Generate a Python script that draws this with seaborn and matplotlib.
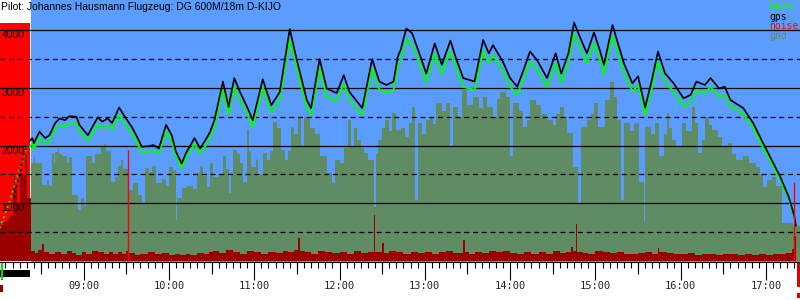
import matplotlib
matplotlib.use("Agg")
import matplotlib.pyplot as plt
from matplotlib.ticker import MultipleLocator
import seaborn as sns

# ---------------- data ----------------
title = "Pilot: Johannes Hausmann Flugzeug: DG 600M/18m D-KIJO"

gps_t = ["08:22", "08:24", "08:25", "08:29", "08:33", "08:36", "08:40", "08:43", "08:47", "08:50",
         "08:55", "08:57", "09:01", "09:03", "09:07", "09:10", "09:13", "09:17", "09:20", "09:25",
         "09:29", "09:34", "09:37", "09:41", "09:46", "09:49", "09:53", "09:58", "10:02", "10:05",
         "10:09", "10:12", "10:18", "10:22", "10:27", "10:29", "10:32", "10:38", "10:42", "10:46",
         "10:50", "10:55", "10:59", "11:06", "11:12", "11:18", "11:25", "11:30", "11:37", "11:40",
         "11:46", "11:51", "11:58", "12:03", "12:07", "12:16", "12:23", "12:28", "12:33", "12:38",
         "12:41", "12:43", "12:47", "12:51", "12:57", "13:01", "13:07", "13:12", "13:18", "13:22",
         "13:27", "13:35", "13:41", "13:45", "13:48", "13:55", "14:00", "14:05", "14:09", "14:14",
         "14:19", "14:26", "14:32", "14:36", "14:41", "14:45", "14:50", "14:54", "14:59", "15:03",
         "15:06", "15:12", "15:20", "15:26", "15:30", "15:35", "15:40", "15:44", "15:49", "15:55",
         "16:02", "16:07", "16:11", "16:17", "16:21", "16:27", "16:31", "16:35", "16:44", "16:51",
         "16:58", "17:04", "17:10", "17:16", "17:20", "17:21"]
gps_v = [2080, 2130, 2040, 2240, 2130, 2180, 2390, 2470, 2440, 2510,
         2500, 2360, 2240, 2180, 2360, 2490, 2415, 2470, 2390, 2660,
         2500, 2320, 2180, 1980, 1990, 2010, 1950, 2360, 2180, 1890,
         1690, 1870, 2130, 1950, 2150, 2240, 2440, 3110, 2670, 3170,
         2930, 2670, 2440, 3150, 2700, 2930, 4020, 3480, 2790, 2650,
         3500, 2990, 2910, 3220, 2930, 2650, 3500, 3110, 3050, 3110,
         3540, 3660, 4030, 3950, 3540, 3250, 3770, 3400, 3820, 3510,
         3170, 3110, 3830, 3600, 3740, 3450, 3170, 3020, 3280, 3630,
         3480, 3170, 3600, 3250, 3600, 4130, 3830, 3600, 3960, 3660,
         3400, 4090, 3430, 3080, 3200, 2660, 3170, 3630, 3250, 3080,
         2820, 2880, 3110, 3050, 3170, 2990, 3020, 2790, 2650, 2390,
         2040, 1750, 1460, 1110, 770, 610]
baro_v = [1980, 2030, 1945, 2135, 2030, 2080, 2280, 2355, 2325, 2390,
          2380, 2250, 2135, 2080, 2250, 2375, 2300, 2355, 2280, 2535,
          2380, 2210, 2080, 1885, 1895, 1915, 1860, 2250, 2080, 1800,
          1610, 1780, 2030, 1860, 2050, 2135, 2325, 2965, 2545, 3020,
          2790, 2545, 2325, 3000, 2575, 2790, 3840, 3315, 2660, 2525,
          3335, 2850, 2775, 3070, 2790, 2525, 3335, 2965, 2905, 2965,
          3375, 3485, 3840, 3765, 3375, 3095, 3595, 3240, 3640, 3345,
          3020, 2965, 3650, 3430, 3565, 3290, 3020, 2875, 3125, 3460,
          3315, 3020, 3430, 3095, 3430, 3935, 3650, 3430, 3775, 3490,
          3240, 3900, 3270, 2935, 3050, 2535, 3020, 3460, 3100, 2935,
          2690, 2745, 2965, 2905, 3020, 2850, 2880, 2680, 2550, 2300,
          1960, 1685, 1405, 1070, 750, 610]

pre_baro_t = ["08:01", "08:08", "08:15", "08:20"]
pre_baro_v = [570, 1030, 1600, 1950]
pre_gps_t = ["08:11", "08:15", "08:17", "08:20"]
pre_gps_v = [1100, 1490, 1780, 1980]

gnd_t = ["08:23", "08:25", "08:26", "08:31", "08:34", "08:36", "08:38", "08:39", "08:40", "08:42",
         "08:43", "08:45", "08:48", "08:50", "08:52", "08:56", "08:58", "09:00", "09:02", "09:06",
         "09:08", "09:12", "09:14", "09:16", "09:19", "09:22", "09:24", "09:26", "09:28", "09:31",
         "09:35", "09:38", "09:41", "09:43", "09:46", "09:48", "09:51", "09:55", "09:58", "10:00",
         "10:03", "10:05", "10:06", "10:09", "10:13", "10:17", "10:20", "10:22", "10:24", "10:27",
         "10:29", "10:31", "10:35", "10:38", "10:40", "10:42", "10:44", "10:45", "10:48", "10:50",
         "10:52", "10:55", "10:56", "10:58", "11:01", "11:03", "11:06", "11:09", "11:11", "11:13",
         "11:16", "11:19", "11:22", "11:24", "11:26", "11:28", "11:31", "11:33", "11:35", "11:39",
         "11:43", "11:46", "11:51", "11:55", "11:57", "12:00", "12:03", "12:06", "12:08", "12:10",
         "12:12", "12:15", "12:17", "12:20", "12:24", "12:26", "12:27", "12:30", "12:32", "12:35",
         "12:37", "12:40", "12:43", "12:46", "12:49", "12:51", "12:53", "12:55", "12:58", "13:01",
         "13:04", "13:06", "13:08", "13:12", "13:15", "13:18", "13:20", "13:23", "13:26", "13:30",
         "13:34", "13:38", "13:41", "13:44", "13:48", "13:51", "13:53", "13:57", "14:00", "14:02",
         "14:06", "14:09", "14:12", "14:14", "14:18", "14:22", "14:26", "14:30", "14:32", "14:35",
         "14:38", "14:40", "14:44", "14:48", "14:50", "14:54", "14:57", "14:59", "15:02", "15:07",
         "15:10", "15:13", "15:15", "15:18", "15:20", "15:24", "15:27", "15:31", "15:34", "15:35",
         "15:39", "15:42", "15:45", "15:48", "15:50", "15:52", "15:54", "15:57", "16:01", "16:04",
         "16:08", "16:10", "16:12", "16:15", "16:17", "16:20", "16:22", "16:26", "16:29", "16:33",
         "16:36", "16:39", "16:44", "16:48", "16:53", "16:56", "16:58", "17:01", "17:04", "17:07",
         "17:11", "17:19", "17:24"]
gnd_v = [1700, 1820, 1700, 1320, 1400, 1300, 1870, 1700, 1890, 1980,
         1850, 1820, 1700, 1800, 1140, 880, 1100, 950, 1820, 1700,
         1850, 1980, 2020, 1900, 1370, 1450, 1650, 1750, 1600, 1230,
         1350, 1150, 1000, 1610, 1550, 1640, 1350, 1420, 1300, 1635,
         1580, 710, 1100, 1265, 1300, 1250, 1525, 1640, 1480, 1290,
         1700, 1460, 1500, 1820, 1600, 1180, 1500, 1920, 1850, 1700,
         1375, 2270, 1900, 1635, 1750, 1500, 1866, 1750, 1900, 2415,
         2300, 1924, 1750, 1900, 2327, 2200, 2500, 2000, 2500, 2300,
         2200, 1820, 1520, 1350, 1750, 1700, 1950, 2444, 2000, 2300,
         2097, 1950, 1866, 1750, 941, 1850, 2097, 2300, 2444, 2250,
         2560, 2270, 2300, 2150, 2400, 2674, 1057, 2386, 2200, 2450,
         2501, 2380, 2733, 2600, 2733, 1980, 2674, 2500, 2963, 2700,
         2847, 2650, 2850, 2674, 2500, 2800, 2934, 2850, 1820, 2733,
         2600, 2327, 2450, 2790, 2700, 2550, 2444, 2350, 2550, 2674,
         2500, 2213, 1634, 1000, 2327, 2450, 2550, 2733, 2327, 2790,
         3107, 2850, 2444, 1050, 2386, 2250, 2400, 1375, 700, 2327,
         2200, 2400, 1820, 2200, 2560, 2300, 2097, 2000, 2386, 2250,
         2674, 2400, 1866, 2100, 2501, 2350, 2270, 2150, 1980, 2050,
         1850, 1750, 1820, 1700, 1634, 1500, 1290, 1400, 1461, 1300,
         655, 600, 600]

noise_t = ["08:01", "08:22"]
noise_v = [4125, 4125]
noise_spike_t = ["09:31", "17:20"]
noise_spike_v = [1924, 1375]

floor_t = ["08:01", "08:03", "08:06", "08:08", "08:10", "08:11", "08:12", "08:13", "08:15", "08:19",
           "08:20", "08:23", "08:26", "08:28", "08:31", "08:32", "08:36", "08:40", "08:44", "08:48",
           "08:52", "08:55", "08:59", "09:02", "09:06", "09:10", "09:14", "09:18", "09:21", "09:24",
           "09:27", "09:30", "09:32", "09:36", "09:40", "09:45", "09:50", "09:55", "10:00", "10:04",
           "10:08", "10:12", "10:15", "10:20", "10:25", "10:28", "10:31", "10:35", "10:40", "10:45",
           "10:50", "10:55", "11:00", "11:05", "11:10", "11:15", "11:20", "11:24", "11:28", "11:31",
           "11:32", "11:36", "11:40", "11:45", "11:50", "11:55", "12:00", "12:05", "12:10", "12:15",
           "12:20", "12:24", "12:25", "12:30", "12:31", "12:35", "12:40", "12:45", "12:50", "12:55",
           "13:00", "13:05", "13:10", "13:15", "13:20", "13:27", "13:28", "13:31", "13:35", "13:40",
           "13:45", "13:50", "13:55", "14:00", "14:05", "14:10", "14:15", "14:20", "14:25", "14:30",
           "14:35", "14:39", "14:43", "14:44", "14:46", "14:47", "14:51", "14:55", "15:00", "15:05",
           "15:10", "15:15", "15:20", "15:25", "15:30", "15:35", "15:40", "15:44", "15:45", "15:50",
           "15:55", "16:00", "16:05", "16:10", "16:15", "16:20", "16:25", "16:30", "16:35", "16:40",
           "16:45", "16:50", "16:55", "17:00", "17:05", "17:10", "17:14", "17:18", "17:20", "17:21"]
floor_v = [626, 684, 741, 800, 1310, 1490, 1310, 970, 1490, 1830,
           1086, 170, 140, 190, 290, 150, 120, 160, 130, 170,
           140, 110, 150, 130, 170, 150, 120, 160, 130, 150,
           120, 170, 140, 110, 130, 160, 120, 140, 110, 130,
           100, 120, 110, 140, 120, 150, 170, 140, 190, 150,
           130, 170, 150, 130, 160, 140, 170, 150, 190, 400,
           170, 150, 130, 180, 160, 140, 150, 130, 170, 140,
           150, 790, 160, 320, 140, 170, 160, 130, 150, 140,
           160, 130, 150, 170, 140, 360, 150, 130, 160, 140,
           170, 150, 180, 140, 130, 160, 120, 150, 130, 170,
           140, 160, 240, 170, 650, 160, 140, 130, 170, 150,
           140, 160, 130, 120, 140, 150, 130, 220, 150, 140,
           130, 120, 140, 110, 130, 120, 110, 130, 120, 110,
           120, 110, 120, 110, 130, 120, 140, 200, 430, 0]

hour_labels = ["09:00", "10:00", "11:00", "12:00", "13:00", "14:00", "15:00", "16:00", "17:00"]
half_hours = ["08:30", "09:30", "10:30", "11:30", "12:30", "13:30", "14:30", "15:30", "16:30"]
ytick_vals = [1000, 2000, 3000, 4000]
ytick_labels = ["1000", "2000", "3000", "4000"]
ygrid_minor = [500, 1500, 2500, 3500]

legend_labels = ["baro", "gps", "noise", "gnd"]
legend_colors = ["#00ff00", "#000000", "#ff0000", "#608c64"]

# ---------------- helpers ----------------
def tmin(s):
    parts = s.split(":")
    return int(parts[0]) * 60 + float(parts[1])

def tl(lst):
    return [tmin(s) for s in lst]

SKY = "#5a9cff"
GND = "#608c64"
DARKRED = "#990000"

sns.set_theme(style="white")
plt.rcParams["font.family"] = ["DejaVu Sans"]

fig = plt.figure(figsize=(8, 3), dpi=100)
fig.patch.set_facecolor("white")
ax = fig.add_axes([0, 38 / 300, 1, 262 / 300])
ax.set_facecolor("white")

x0, x1 = 481.2, 1043.9
ax.set_xlim(x0, x1)
ax.set_ylim(-17, 4523)

# sky during flight
ax.axvspan(tmin(gnd_t[0]), x1, color=SKY, lw=0, zorder=0)
# engine noise block
ax.fill_between(tl(noise_t), noise_v, step="post", color="#ff0000", lw=0, zorder=0.5)
# ground
ax.fill_between(tl(gnd_t), gnd_v, step="post", color=GND, lw=0, zorder=0.8)
# noise floor
ax.fill_between(tl(floor_t), floor_v, step="post", color=DARKRED, lw=0, zorder=0.9)
ax.vlines(tl(noise_spike_t), 0, noise_spike_v, color="#ff0000", lw=1.0, zorder=2.2)

# pre-flight dotted traces
ax.plot(tl(pre_baro_t), pre_baro_v, color="#00ff00", lw=1.3, ls=(0, (1, 2)), zorder=2)
ax.plot(tl(pre_gps_t), pre_gps_v, color="black", lw=1.3, ls=(0, (1, 2)), zorder=2.1)

# flight traces
sns.lineplot(x=tl(gps_t), y=baro_v, ax=ax, color="#00ff00", lw=1.4, estimator=None,
             sort=False, legend=False, zorder=2)
sns.lineplot(x=tl(gps_t), y=gps_v, ax=ax, color="black", lw=1.2, estimator=None,
             sort=False, legend=False, zorder=2.1)

# grid
ax.set_axisbelow("line")
ax.set_yticks(ytick_vals, labels=ytick_labels)
ax.set_yticks(ygrid_minor, minor=True)
ax.yaxis.grid(True, which="major", color="black", lw=0.9, ls="-")
ax.yaxis.grid(True, which="minor", color="black", lw=0.9, ls=(0, (4, 3)))
ax.xaxis.grid(False)
ax.tick_params(axis="y", which="both", length=0, pad=-1, labelsize=7.5, labelcolor="black")
for lab in ax.get_yticklabels():
    lab.set_horizontalalignment("left")
    lab.set_verticalalignment("top")
    lab.set_fontfamily("Liberation Sans")

# x ticks
ax.set_xticks(tl(hour_labels), labels=hour_labels)
ax.xaxis.set_minor_locator(MultipleLocator(5))
ax.tick_params(axis="x", which="major", direction="out", length=13, width=0.8, color="black",
               pad=0.5, labelsize=7.5, bottom=True)
ax.tick_params(axis="x", which="minor", direction="out", length=4.3, width=0.8, color="black",
               bottom=True)
for lab in ax.get_xticklabels():
    lab.set_fontfamily("DejaVu Sans Mono")

sec = ax.secondary_xaxis("bottom")
sec.set_xticks(tl(half_hours))
sec.tick_params(axis="x", direction="out", length=8.6, width=0.8, color="black", labelbottom=False)
for s in sec.spines.values():
    s.set_visible(False)

for name, s in ax.spines.items():
    s.set_visible(name == "bottom")
ax.spines["bottom"].set_color("black")
ax.spines["bottom"].set_linewidth(0.8)

# timeline markers below the axis
tr = ax.get_xaxis_transform()
ax.fill_between([x0, tmin("08:22")], -0.031, -0.057, color="black", lw=0, transform=tr, clip_on=False)
ax.fill_between([x0 + 0.6, x0 + 1.8], 0, -0.069, color="#00dd00", lw=0, transform=tr, clip_on=False)
ax.fill_between([x0, x0 + 2.0], -0.088, -0.115, color=DARKRED, lw=0, transform=tr, clip_on=False)
ax.fill_between([tmin("17:22"), x1], 0, -0.095, color="#dd0000", lw=0, transform=tr, clip_on=False)
ax.fill_between([tmin("17:22"), x1], -0.118, -0.137, color="#dd0000", lw=0, transform=tr, clip_on=False)

# title and legend
fig.text(1 / 800, 1 - 7 / 300, title, ha="left", va="center", fontsize=7.5,
         family="Liberation Sans", color="black")
for i, (lab, col) in enumerate(zip(legend_labels, legend_colors)):
    fig.text(769 / 800, 1 - (10 + 9.7 * i) / 300, lab, ha="left", va="baseline",
             fontsize=7, family="DejaVu Sans Mono", color=col)

fig.savefig("out.png", dpi=100)
